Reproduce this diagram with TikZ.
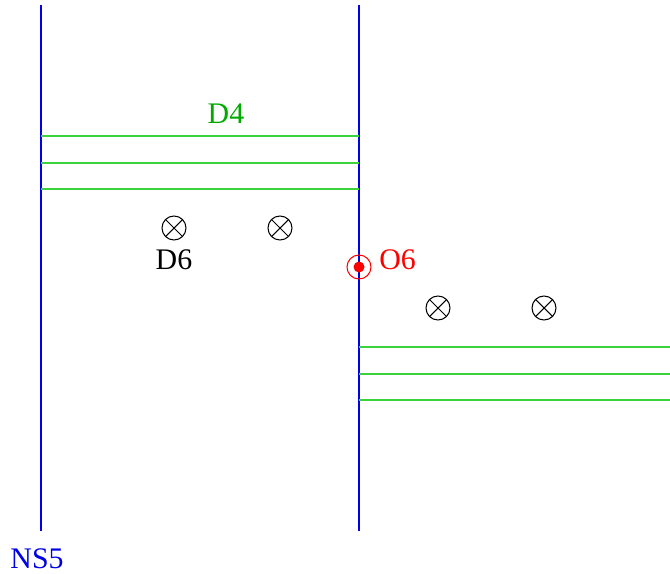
\documentclass[tikz,border=0pt]{standalone}
\usepackage{fontspec}
\setmainfont{Liberation Serif}
\begin{document}
\begin{tikzpicture}[>=latex]

% --- Stijldefinities ---
\definecolor{braanlijn}{RGB}{0,0,230}
\definecolor{vlakgroen}{RGB}{60,210,60}
\definecolor{labelgroen}{RGB}{0,170,0}
\tikzset{
    brane/.style={
        draw=braanlijn,
        line width=0.6pt
    },
    vlak/.style={
        draw=vlakgroen,
        line width=0.6pt
    },
    kruis/.style={
        circle,
        draw=black,
        line width=0.6pt,
        minimum size=0.48cm,
        inner sep=0pt,
        path picture={
            \draw[line width=0.6pt] (path picture bounding box.north west) -- (path picture bounding box.south east);
            \draw[line width=0.6pt] (path picture bounding box.north east) -- (path picture bounding box.south west);
        }
    },
    label/.style={
        font=\fontsize{17}{20}\selectfont,
        inner sep=0pt
    }
}

\useasboundingbox (0,0) rectangle (13.4,-11.46);

% --- Eindpunten van de branen ---
\coordinate (nsA) at (0.82,-0.1);
\coordinate (nsB) at (0.82,-10.62);
\coordinate (nsC) at (7.18,-0.1);
\coordinate (nsD) at (7.18,-10.62);

% Verticale lijnen (NS5)
\draw[brane] (nsA) -- (nsB);
\draw[brane] (nsC) -- (nsD);

% --- D4 links ---
\foreach \y [count=\i] in {-2.72,-3.26,-3.78} {
    \coordinate (dl\i) at (0.82,\y);
    \coordinate (dr\i) at (7.18,\y);
    \draw[vlak] (dl\i) -- (dr\i);
}

% --- D4 rechts ---
\foreach \y [count=\i] in {-6.94,-7.48,-8.0} {
    \coordinate (el\i) at (7.18,\y);
    \coordinate (er\i) at (13.4,\y);
    \draw[vlak] (el\i) -- (er\i);
}

% --- D6 (kruisjes) ---
\node[kruis] (k1) at (3.48,-4.56) {};
\node[kruis] (k2) at (5.6,-4.56) {};
\node[kruis] (k3) at (8.76,-6.16) {};
\node[kruis] (k4) at (10.88,-6.16) {};

% --- O6 ---
\node[circle, draw=red, line width=0.6pt, minimum size=0.48cm, inner sep=0pt] (o6) at (7.18,-5.34) {};
\fill[red] (o6.center) circle (0.11);

% --- Labels ---
\node[label, text=labelgroen] (tD4) at (4.52,-2.28) {D4};
\node[label] (tD6) at (3.48,-5.2) {D6};
\node[label, text=red, anchor=west] (tO6) at (7.58,-5.2) {O6};
\node[label, text=braanlijn] (tNS5) at (0.74,-11.17) {NS5};

\end{tikzpicture}
\end{document}
